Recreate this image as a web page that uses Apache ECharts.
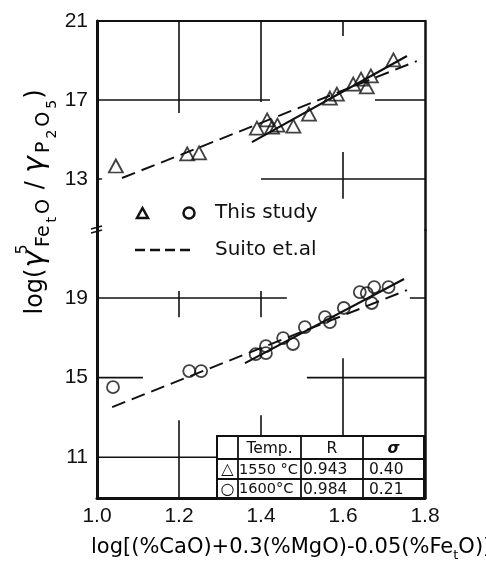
<!DOCTYPE html>
<html><head><meta charset="utf-8">
<script src="https://cdn.jsdelivr.net/npm/echarts@6/dist/echarts.min.js"></script>
<style>html,body{margin:0;padding:0;background:#fff}#c{width:486px;height:563px}</style>
</head><body><div id="c"></div>
<script>
// ---- data ----
const xTicks = [1.0, 1.2, 1.4, 1.6, 1.8];
const upperTicks = [13, 17, 21];
const lowerTicks = [11, 15, 19];
// 1550 °C (triangles, upper panel)
const x1550 = [1.046,1.220,1.249,1.390,1.415,1.427,1.440,1.479,1.517,1.568,1.585,1.625,1.644,1.658,1.668,1.723];
const y1550 = [13.66,14.27,14.32,15.58,15.99,15.63,15.73,15.68,16.29,17.10,17.30,17.81,18.06,17.66,18.22,19.03];
// 1600 °C (circles, lower panel)
const x1600 = [1.039,1.225,1.254,1.387,1.412,1.412,1.454,1.478,1.507,1.556,1.568,1.602,1.641,1.658,1.670,1.676,1.711];
const y1600 = [14.52,15.33,15.33,16.18,16.23,16.58,16.99,16.69,17.54,18.04,17.79,18.50,19.30,19.25,18.75,19.55,19.55];
// regression lines (this study, solid) and Suito et al. (dashed)
const fit1550X = [1.378, 1.756], fit1550Y = [14.87, 19.23];
const suito1550X = [1.061, 1.780], suito1550Y = [13.05, 18.97];
const fit1600X = [1.361, 1.749], fit1600Y = [15.73, 19.96];
const suito1600X = [1.037, 1.756], suito1600Y = [13.52, 19.40];
// table
const tableHead = ['', 'Temp.', 'R', 'σ'];
const tableSym = ['△', '○'];
const tableTemps = ['1550 °C', '1600°C'];
const tableR = ['0.943', '0.984'];
const tableSigma = ['0.40', '0.21'];
// partial grid lines of the original figure, in data units [x1,y1,x2,y2]
const upperGridSeg = [[1.0,17,1.422,17],[1.678,17,1.8,17],[1.4,13,1.8,13],[1.0,13,1.012,13],
  [1.2,21,1.2,16.34],[1.4,21,1.4,16.9],[1.6,21,1.6,20.24],[1.6,14.37,1.6,12.0]];
const lowerGridSeg = [[1.0,19,1.463,19],[1.763,19,1.8,19],[1.2,19.35,1.2,18.04],[1.4,19.35,1.4,18.04],
  [1.0,15,1.112,15],[1.512,15,1.8,15],[1.6,15.98,1.6,12.06],[1.2,12.86,1.2,8.95],[1.4,13.11,1.4,12.06],
  [1.0,11,1.293,11]];

// ---- chart ----
const chart = echarts.init(document.getElementById('c'), null, {renderer: 'canvas'});
const BLACK = '#111';
const tickFont = {fontFamily: 'Liberation Sans', fontSize: 21, color: BLACK};
const zip = (xs, ys) => xs.map((x, i) => [x, ys[i]]);

const series = [];
upperGridSeg.forEach(s => series.push({type:'line', xAxisIndex:0, yAxisIndex:0, data:[[s[0],s[1]],[s[2],s[3]]],
  symbol:'none', silent:true, lineStyle:{color:BLACK, width:1.6}, z:1}));
lowerGridSeg.forEach(s => series.push({type:'line', xAxisIndex:1, yAxisIndex:2, data:[[s[0],s[1]],[s[2],s[3]]],
  symbol:'none', silent:true, lineStyle:{color:BLACK, width:1.6}, z:1}));

series.push(
  {type:'line', xAxisIndex:0, yAxisIndex:0, data: zip(suito1550X, suito1550Y), symbol:'none',
   lineStyle:{color:BLACK, width:2, type:[14,7]}, z:3},
  {type:'line', xAxisIndex:0, yAxisIndex:0, data: zip(fit1550X, fit1550Y), symbol:'none',
   lineStyle:{color:BLACK, width:2.2}, z:3},
  {type:'scatter', xAxisIndex:0, yAxisIndex:0, data: zip(x1550, y1550), symbol:'triangle', symbolSize:[14,13],
   itemStyle:{color:'rgba(255,255,255,0)', borderColor:BLACK, borderWidth:1.8}, z:5},
  {type:'line', xAxisIndex:1, yAxisIndex:2, data: zip(suito1600X, suito1600Y), symbol:'none',
   lineStyle:{color:BLACK, width:2, type:[14,7]}, z:3},
  {type:'line', xAxisIndex:1, yAxisIndex:2, data: zip(fit1600X, fit1600Y), symbol:'none',
   lineStyle:{color:BLACK, width:2.2}, z:3},
  {type:'scatter', xAxisIndex:1, yAxisIndex:2, data: zip(x1600, y1600), symbol:'circle', symbolSize:12,
   itemStyle:{color:'rgba(255,255,255,0)', borderColor:BLACK, borderWidth:1.8}, z:5}
);

const hiddenAxisParts = {axisTick:{show:false}, axisLabel:{show:false}, splitLine:{show:false}};

// table graphics
const tX = [217, 238, 301, 363, 424];
const tY = [436, 459, 479, 498];
const tFont = {fontFamily:'DejaVu Sans', fontSize:14.5, fill:BLACK};
const tableEls = [
  {type:'rect', shape:{x:tX[0], y:tY[0], width:tX[4]-tX[0], height:tY[3]-tY[0]},
   style:{fill:'#fff', stroke:BLACK, lineWidth:2}}
];
[1,2,3].forEach(i => tableEls.push({type:'line', shape:{x1:tX[i], y1:tY[0], x2:tX[i], y2:tY[3]}, style:{stroke:BLACK, lineWidth:1.8}}));
[1,2].forEach(i => tableEls.push({type:'line', shape:{x1:tX[0], y1:tY[i], x2:tX[4], y2:tY[i]}, style:{stroke:BLACK, lineWidth:1.8}}));
tableEls.push({type:'text', x:(tX[1]+tX[2])/2, y:(tY[0]+tY[1])/2 + 1, style:Object.assign({text:tableHead[1], align:'center', verticalAlign:'middle'}, tFont, {fontSize:15.5})});
tableEls.push({type:'text', x:(tX[2]+tX[3])/2, y:(tY[0]+tY[1])/2 + 1, style:Object.assign({text:tableHead[2], align:'center', verticalAlign:'middle'}, tFont, {fontSize:15.5})});
tableEls.push({type:'text', x:(tX[3]+tX[4])/2, y:(tY[0]+tY[1])/2 + 1, style:Object.assign({text:tableHead[3], align:'center', verticalAlign:'middle'}, tFont, {fontStyle:'italic', fontWeight:'bold', fontSize:15.5})});
for (let r = 0; r < 2; r++) {
  const cy = (tY[r+1] + tY[r+2]) / 2 + 1;
  tableEls.push({type:'text', x:(tX[0]+tX[1])/2, y:cy, style:Object.assign({text:tableSym[r], align:'center', verticalAlign:'middle'}, tFont, {fontSize:16})});
  tableEls.push({type:'text', x:tX[1]+1, y:cy, style:Object.assign({text:tableTemps[r], align:'left', verticalAlign:'middle'}, tFont)});
  tableEls.push({type:'text', x:tX[2]+2, y:cy, style:Object.assign({text:tableR[r], align:'left', verticalAlign:'middle'}, tFont, {fontSize:15.5})});
  tableEls.push({type:'text', x:tX[3]+6, y:cy, style:Object.assign({text:tableSigma[r], align:'left', verticalAlign:'middle'}, tFont, {fontSize:15.5})});
}

const yName = '{m|log(}{g|γ}{sup|5}{sub|Fe}{ss|t}{sub|O}{m| / }{g|γ}{sub|P}{ss|2}{sub|O}{ss|5}{m|)}';
const xName = '{m|log[(%CaO)+0.3(%MgO)-0.05(%Fe}{s|t}{m|O)]}';

const option = {
  animation: false,
  backgroundColor: '#fff',
  grid: [
    {left:97, top:21, width:328, height:209},
    {left:97, top:230, width:328, height:268}
  ],
  xAxis: [
    Object.assign({type:'value', gridIndex:0, min:1.0, max:1.8, interval:0.2, position:'top',
      axisLine:{show:true, onZero:false, lineStyle:{color:BLACK, width:2}}}, hiddenAxisParts),
    {type:'value', gridIndex:1, min:1.0, max:1.8, interval:0.2, position:'bottom',
      axisLine:{show:true, onZero:false, lineStyle:{color:BLACK, width:3}},
      axisTick:{show:false}, splitLine:{show:false},
      axisLabel:Object.assign({margin:8, formatter: v => v.toFixed(1)}, tickFont)}
  ],
  yAxis: [
    {type:'value', gridIndex:0, min:10.42, max:21, position:'left',
      axisLine:{show:true, onZero:false, lineStyle:{color:BLACK, width:3}},
      axisTick:{show:false}, splitLine:{show:false},
      axisLabel:Object.assign({margin:9, customValues: upperTicks}, tickFont)},
    Object.assign({type:'value', gridIndex:0, min:10.42, max:21, position:'right',
      axisLine:{show:true, onZero:false, lineStyle:{color:BLACK, width:2.5}}}, hiddenAxisParts),
    {type:'value', gridIndex:1, min:8.95, max:22.42, position:'left',
      axisLine:{show:true, onZero:false, lineStyle:{color:BLACK, width:3}},
      axisTick:{show:false}, splitLine:{show:false},
      axisLabel:Object.assign({margin:9, customValues: lowerTicks}, tickFont)},
    Object.assign({type:'value', gridIndex:1, min:8.95, max:22.42, position:'right',
      axisLine:{show:true, onZero:false, lineStyle:{color:BLACK, width:2.5}}}, hiddenAxisParts)
  ],
  series: series,
  graphic: [
    // axis break mark
    {type:'line', shape:{x1:91, y1:229, x2:102, y2:226}, style:{stroke:BLACK, lineWidth:1.6}, z:20},
    {type:'line', shape:{x1:91, y1:233, x2:102, y2:230}, style:{stroke:BLACK, lineWidth:1.6}, z:20},
    // in-plot legend
    {type:'polygon', shape:{points:[[137,218],[148,218],[142.5,208]]}, style:{fill:'none', stroke:BLACK, lineWidth:2.5}},
    {type:'circle', shape:{cx:189, cy:213, r:5.5}, style:{fill:'none', stroke:BLACK, lineWidth:2.5}},
    {type:'text', x:215, y:213, style:{text:'This study', fontFamily:'DejaVu Sans', fontSize:20, fill:BLACK, align:'left', verticalAlign:'middle'}},
    {type:'line', shape:{x1:135, y1:250, x2:191, y2:250}, style:{stroke:BLACK, lineWidth:2.5, lineDash:[10,5]}},
    {type:'text', x:215, y:250, style:{text:'Suito et.al', fontFamily:'DejaVu Sans', fontSize:20, fill:BLACK, align:'left', verticalAlign:'middle'}},
    // table
    {type:'group', children: tableEls, z:10},
    // axis titles
    {type:'text', x:36, y:202, rotation:Math.PI/2, style:{text:yName, align:'center', verticalAlign:'middle',
      rich:{
        m:{fontFamily:'DejaVu Sans', fontSize:24, color:BLACK, lineHeight:46},
        g:{fontFamily:'DejaVu Sans', fontSize:28, fontStyle:'italic', color:BLACK, lineHeight:46, padding:[0,1,0,1]},
        sup:{fontFamily:'DejaVu Sans', fontSize:16, color:BLACK, lineHeight:16, verticalAlign:'top', width:1, padding:[2,0,0,0]},
        sub:{fontFamily:'DejaVu Sans', fontSize:19, color:BLACK, lineHeight:18, verticalAlign:'bottom', padding:[0,2,5,2]},
        ss:{fontFamily:'DejaVu Sans', fontSize:14, color:BLACK, lineHeight:14, verticalAlign:'bottom', padding:[0,1,0,1]}
      }}},
    {type:'text', x:91, y:548, style:{text:xName, align:'left', verticalAlign:'middle',
      rich:{
        m:{fontFamily:'DejaVu Sans', fontSize:21, color:BLACK, lineHeight:28},
        s:{fontFamily:'DejaVu Sans', fontSize:13, color:BLACK, lineHeight:13, verticalAlign:'bottom'}
      }}}
  ]
};
chart.setOption(option);
</script></body></html>
